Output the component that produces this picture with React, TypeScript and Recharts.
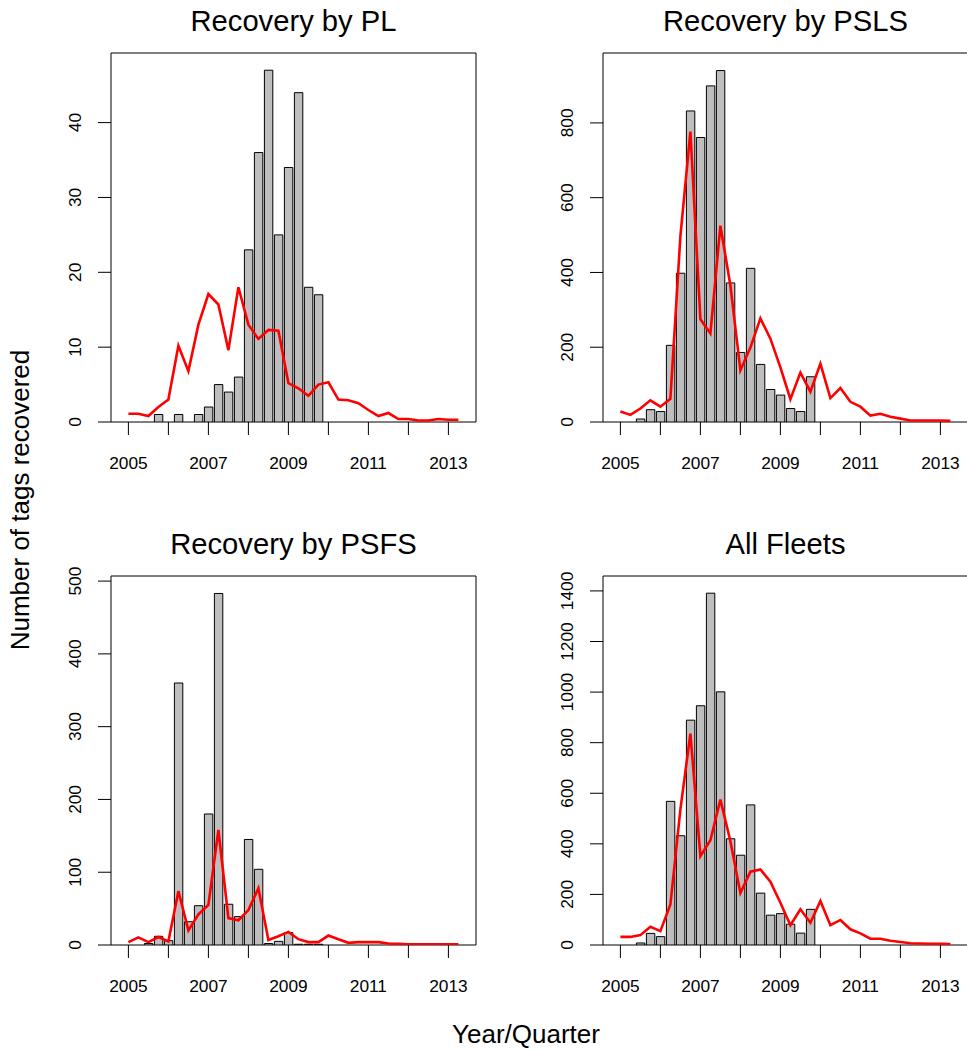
import { Bar, ComposedChart, Line, ReferenceArea, XAxis, YAxis } from "recharts"

const quarters = [
  2005, 2005.25, 2005.5, 2005.75, 2006, 2006.25, 2006.5, 2006.75, 2007, 2007.25, 2007.5, 2007.75,
  2008, 2008.25, 2008.5, 2008.75, 2009, 2009.25, 2009.5, 2009.75, 2010, 2010.25, 2010.5, 2010.75,
  2011, 2011.25, 2011.5, 2011.75, 2012, 2012.25, 2012.5, 2012.75, 2013, 2013.25,
]

const yearTicks = [2005, 2006, 2007, 2008, 2009, 2010, 2011, 2012, 2013]

// observed recoveries (bars)
const plBars = [0, 0, 0, 1, 0, 1, 0, 1, 2, 5, 4, 6, 23, 36, 47, 25, 34, 44, 18, 17, 0, 0, 0, 0, 0, 0, 0, 0, 0, 0, 0, 0, 0, 0]
const pslsBars = [0, 0, 8, 33, 28, 205, 398, 832, 761, 899, 940, 372, 186, 411, 154, 87, 72, 36, 28, 121, 0, 0, 0, 0, 0, 0, 0, 0, 0, 0, 0, 0, 0, 0]
const psfsBars = [0, 0, 2, 12, 6, 360, 32, 54, 180, 483, 56, 39, 145, 104, 2, 5, 17, 1, 1, 1, 0, 0, 0, 0, 0, 0, 0, 0, 0, 0, 0, 0, 0, 0]
const allBars = [0, 0, 8, 46, 33, 568, 432, 889, 946, 1391, 1001, 420, 355, 554, 205, 118, 124, 82, 47, 141, 0, 0, 0, 0, 0, 0, 0, 0, 0, 0, 0, 0, 0, 0]

// predicted recoveries (red line)
const plLine = [1.1, 1.1, 0.8, 2.0, 3.0, 10.2, 6.8, 13.0, 17.1, 15.7, 9.6, 18.0, 13.0, 11.1, 12.3, 12.2, 5.2, 4.5, 3.5, 5.0, 5.3, 3.0, 2.9, 2.5, 1.6, 0.8, 1.2, 0.4, 0.4, 0.2, 0.2, 0.4, 0.3, 0.3]
const pslsLine = [28, 19, 36, 58, 41, 62, 497, 777, 275, 237, 525, 365, 138, 199, 277, 223, 146, 61, 132, 81, 156, 64, 91, 54, 41, 17, 22, 14, 9, 4, 4, 4, 4, 3]
const psfsLine = [4, 10.5, 4, 11, 5, 74, 20, 42, 55, 158, 37, 34, 48, 78, 7, 12, 18, 8, 4, 4, 13, 8, 3, 4, 4, 4, 2, 1.5, 1, 1, 1, 1, 1, 1]
const allLine = [32, 32, 39, 72, 55, 160, 536, 836, 351, 414, 575, 410, 205, 290, 299, 250, 167, 78, 141, 88, 174, 78, 99, 62, 46, 25, 25, 17, 12, 7, 6, 5, 5, 4]

const xDomain = [2004.565, 2013.69]
const font = '"Liberation Sans", Arial, sans-serif'

const BOX_W = 365

function YTick({ x, y, payload }: any) {
  const tx = x - 17
  return (
    <text x={tx} y={y} transform={`rotate(-90, ${tx}, ${y})`} textAnchor="middle" fontSize={17.3} fontFamily={font} fill="#000">
      {payload.value}
    </text>
  )
}

function XTick({ x, y, payload }: any) {
  const label = payload.value % 2 === 1 ? String(payload.value) : ""
  return (
    <text x={x} y={y + 34} textAnchor="middle" fontSize={17.3} fontFamily={font} fill="#000">
      {label}
    </text>
  )
}

function Panel({
  bars,
  line,
  yMax,
  yTicks,
  left,
  top,
}: {
  bars: number[]
  line: number[]
  yMax: number
  yTicks: number[]
  left: number
  top: number
}) {
  const rows = quarters.map((q, i) => ({ q, bar: bars[i], line: line[i] }))
  return (
    <div style={{ position: "absolute", left: left - 100, top: top - 50 }}>
      <ComposedChart width={475} height={489} data={rows} margin={{ top: 50, right: 10, bottom: 10, left: 40 }}>
        <XAxis
          type="number"
          dataKey="q"
          domain={xDomain}
          ticks={yearTicks}
          interval={0}
          height={60}
          tickSize={13}
          tickMargin={0}
          axisLine={false}
          stroke="#000"
          tick={(p: any) => <XTick {...p} />}
          allowDataOverflow
        />
        <YAxis
          type="number"
          domain={[0, yMax]}
          ticks={yTicks}
          interval={0}
          width={60}
          tickSize={13}
          tickMargin={0}
          axisLine={false}
          stroke="#000"
          tick={(p: any) => <YTick {...p} />}
          allowDataOverflow
        />
        <Bar dataKey="bar" fill="#bebebe" stroke="#000" strokeWidth={1} barSize={8.4} isAnimationActive={false} />
        <Line
          dataKey="line"
          type="linear"
          stroke="#ff0000"
          strokeWidth={2.6}
          dot={false}
          activeDot={false}
          isAnimationActive={false}
        />
        <ReferenceArea
          x1={xDomain[0]}
          x2={xDomain[1]}
          y1={0}
          y2={yMax}
          fill="none"
          fillOpacity={0}
          stroke="#000"
          strokeWidth={1}
          ifOverflow="visible"
        />
      </ComposedChart>
    </div>
  )
}

const panels = [
  { title: "Recovery by PL", bars: plBars, line: plLine, yMax: 49.3, yTicks: [0, 10, 20, 30, 40], left: 111, top: 53.3 },
  { title: "Recovery by PSLS", bars: pslsBars, line: pslsLine, yMax: 987, yTicks: [0, 200, 400, 600, 800], left: 603, top: 53.3 },
  { title: "Recovery by PSFS", bars: psfsBars, line: psfsLine, yMax: 507, yTicks: [0, 100, 200, 300, 400, 500], left: 111, top: 576 },
  { title: "All Fleets", bars: allBars, line: allLine, yMax: 1459, yTicks: [0, 200, 400, 600, 800, 1000, 1200, 1400], left: 603, top: 576 },
]

export default function App() {
  return (
    <div style={{ position: "absolute", left: 0, top: 0, width: 967, height: 1050, overflow: "hidden", background: "#fff" }}>
      {panels.map((p) => (
        <Panel key={p.title} bars={p.bars} line={p.line} yMax={p.yMax} yTicks={p.yTicks} left={p.left} top={p.top} />
      ))}
      <svg width={967} height={1050} style={{ position: "absolute", left: 0, top: 0, pointerEvents: "none" }}>
        {panels.map((p) => (
          <text key={p.title} x={p.left + BOX_W / 2} y={p.top - 22} textAnchor="middle" fontSize={29.2} fontFamily={font} fill="#000">
            {p.title}
          </text>
        ))}
        <text x={28.5} y={500} transform="rotate(-90, 28.5, 500)" textAnchor="middle" fontSize={26} fontFamily={font} fill="#000">
          Number of tags recovered
        </text>
        <text x={526} y={1043} textAnchor="middle" fontSize={26} fontFamily={font} fill="#000">
          Year/Quarter
        </text>
      </svg>
    </div>
  )
}
